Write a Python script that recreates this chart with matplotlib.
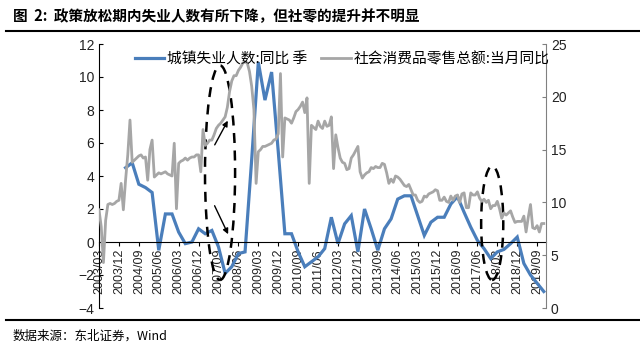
import matplotlib
matplotlib.use('Agg')
import matplotlib.pyplot as plt
from matplotlib.patches import Ellipse
from matplotlib.lines import Line2D
import numpy as np

plt.rcParams['font.family'] = ['Noto Sans CJK SC', 'DejaVu Sans']

# 社会消费品零售总额:当月同比 (%), 月度, 2003/03 起
retail_yoy = [
    9.3, 7.7, 4.3, 8.3, 9.8, 9.9, 9.8, 9.9, 10.1, 10.2,
    11.8, 9.3, 12.1, 14.5, 17.8, 13.8, 14.0, 14.2, 14.4, 14.5, 14.2, 14.3,
    12.1, 15.0, 15.9, 12.4, 12.6, 12.8, 12.7, 12.8, 12.9, 12.7, 12.6, 12.5,
    15.6, 9.4, 13.7, 13.9, 14.0, 14.2, 14.0, 14.2, 14.3, 14.3, 14.5, 14.5,
    12.9, 16.9, 15.4, 15.6, 15.9, 15.9, 16.4, 17.0, 17.3, 17.5, 17.8, 18.1,
    19.0, 20.5, 21.5, 22.0, 22.0, 22.5, 22.8, 23.2, 23.3, 23.2, 22.4, 21.0,
    18.8, 11.8, 14.8, 15.0, 15.3, 15.3, 15.4, 15.5, 15.6, 15.9, 16.0, 16.5,
    22.2, 14.3, 18.0, 17.9, 17.8, 17.5, 18.0, 18.6, 18.8, 19.1, 19.5, 18.5,
    19.9, 11.8, 17.3, 17.1, 16.9, 17.7, 17.2, 17.0, 17.7, 17.2, 17.3, 18.1,
    13.2, 16.4, 15.2, 14.2, 13.8, 13.7, 13.1, 13.2, 14.2, 14.5, 14.9, 15.3,
    12.9, 12.3, 12.6, 12.8, 12.9, 13.3, 13.2, 13.4, 13.3, 13.3, 13.7, 13.6,
    12.8, 11.8, 12.2, 11.9, 12.5, 12.4, 12.2, 11.9, 11.6, 11.5, 11.7, 11.2,
    10.7, 10.7, 10.2, 10.0, 10.1, 10.6, 10.5, 10.8, 10.9, 11.0, 11.2, 11.1,
    10.2, 10.2, 10.5, 10.1, 10.0, 10.6, 10.2, 10.6, 10.7, 10.0, 10.8, 10.9,
    9.5, 9.5, 10.9, 10.7, 10.7, 11.0, 10.4, 10.1, 10.3, 10.0, 10.2, 9.4,
    9.7, 9.7, 10.1, 9.4, 8.5, 9.0, 8.8, 9.0, 9.2, 8.6, 8.1, 8.2,
    8.2, 8.2, 8.7, 7.2, 8.6, 9.8, 7.6, 7.5, 7.8, 7.2, 8.0, 8.0,
]

# 城镇失业人数:同比 (%), 季度, 2004/03 起
unemp_yoy = [
    4.5, 4.8, 3.5, 3.3,
    3.0, -0.5, 1.7, 1.7,
    0.6, -0.1, 0.0, 0.8,
    0.5, 0.7, -0.3, -1.9,
    -1.5, -0.7, -0.6, 5.0,
    10.9, 8.6, 10.3, 5.5,
    0.5, 0.5, -0.6, -1.5,
    -1.2, -0.9, -0.4, 1.5,
    -0.1, 1.1, 1.6, -0.6,
    2.0, 0.8, -0.5, 0.8,
    1.4, 2.6, 2.8, 2.8,
    1.6, 0.4, 1.2, 1.5,
    1.5, 2.3, 2.75, 1.8,
    0.9, 0.1, -0.4, -1.0,
    -0.6, -0.45, -0.1, 0.3,
    -1.3, -2.0, -2.5, -3.0,
]

xlabels = ["2003/03", "2003/12", "2004/09", "2005/06", "2006/03", "2006/12",
           "2007/09", "2008/06", "2009/03", "2009/12", "2010/09", "2011/06",
           "2012/03", "2012/12", "2013/09", "2014/06", "2015/03", "2015/12",
           "2016/09", "2017/06", "2018/03", "2018/12", "2019/09"]

blue = '#4a7ebb'
grey = '#a6a6a6'

m_retail = np.arange(len(retail_yoy))
m_unemp = 12 + 3 * np.arange(len(unemp_yoy))

fig = plt.figure(figsize=(6.4, 3.52), dpi=100)
ax = fig.add_axes([0.1547, 0.125, 0.6984, 0.75])
ax2 = ax.twinx()

ax.plot(m_unemp, unemp_yoy, color=blue, lw=2.3, solid_joinstyle='miter')
ax2.plot(m_retail, retail_yoy, color=grey, lw=2.0)

ax.spines['bottom'].set_position(('data', 0))
ax.set_xlim(0, 202)
ax.set_ylim(-4, 12)
ax.set_yticks(range(-4, 13, 2))
ax2.set_ylim(0, 25)
ax2.set_yticks(range(0, 26, 5))

ax.set_xticks(np.arange(0, 9 * len(xlabels), 9))
ax.set_xticklabels(xlabels)
plt.setp(ax.get_xticklabels(), rotation=90, fontsize=9, family='Liberation Sans',
         color='#222222', va='top', ha='center')
ax.tick_params(axis='x', direction='out', length=3, pad=2)
ax.tick_params(axis='y', direction='in', length=3, labelsize=10, labelcolor='#222222')
ax2.tick_params(axis='y', direction='in', length=3, labelsize=10, labelcolor='#222222', color='#808080')
for t in ax.get_yticklabels() + ax2.get_yticklabels():
    t.set_family('Liberation Sans')
ax.spines['top'].set_visible(False)
ax2.spines['top'].set_visible(False)
ax2.spines['bottom'].set_visible(False)
ax2.spines['right'].set_color('#808080')
ax2.spines['left'].set_visible(False)
ax.spines['right'].set_visible(False)

# 虚线椭圆与箭头
ax.add_patch(Ellipse((54.7, 4.2), 13.6, 13.0, fill=False, ls=(0, (4, 3)), lw=1.8, color='black', zorder=5))
ax.add_patch(Ellipse((177.7, 1.15), 10.0, 6.9, fill=False, ls=(0, (4, 3)), lw=1.8, color='black', zorder=5))
ax.annotate('', xy=(58.8, 7.5), xytext=(51.7, 5.74),
            arrowprops=dict(arrowstyle='-|>', color='black', lw=1, mutation_scale=8), zorder=6)
ax.annotate('', xy=(58.9, 0.32), xytext=(51.7, 2.35),
            arrowprops=dict(arrowstyle='-|>', color='black', lw=1, mutation_scale=8), zorder=6)

handles = [Line2D([], [], color=blue, lw=2.3), Line2D([], [], color=grey, lw=2.0)]
fig.legend(handles, ['城镇失业人数:同比 季', '社会消费品零售总额:当月同比'],
           loc='upper left', bbox_to_anchor=(0.19, 0.89), ncol=2, frameon=False,
           fontsize=10.6, handlelength=2.0, handletextpad=0.15, columnspacing=1.0)

fig.text(0.02, 0.955, '图  2:  政策放松期内失业人数有所下降，但社零的提升并不明显',
         fontsize=10.5, fontweight='bold', va='center')
fig.add_artist(Line2D([0.01, 1.0], [0.913, 0.913], color='black', lw=1.5))
fig.add_artist(Line2D([0.01, 1.0], [0.09, 0.09], color='black', lw=1.5))
fig.text(0.02, 0.045, '数据来源：东北证券，Wind', fontsize=9, va='center')

fig.savefig('out.png', dpi=100)
